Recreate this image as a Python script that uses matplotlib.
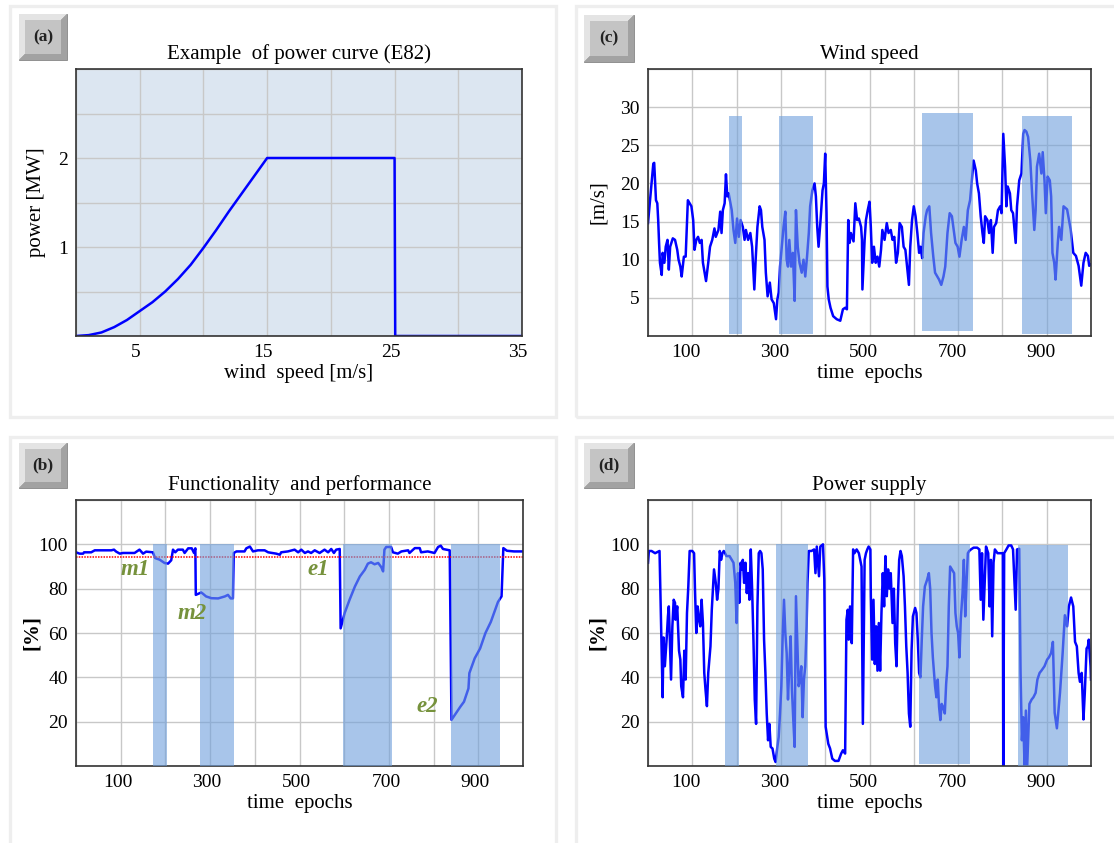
import numpy as np
import matplotlib.pyplot as plt
from matplotlib.patches import Rectangle, Polygon
from matplotlib.transforms import ScaledTranslation

plt.rcParams['font.family'] = ['Liberation Serif', 'DejaVu Serif']

# (a) power curve E82
wind = [0, 1, 2, 3, 4, 5, 6, 7, 8, 9, 10, 11, 12, 13, 14, 15, 25, 25.05, 35]
power = [0, 0.01, 0.04, 0.1, 0.18, 0.28, 0.38, 0.5, 0.64, 0.8, 0.99, 1.19, 1.40, 1.60, 1.80, 2.0, 2.0, 0.0, 0.0]

# (c) wind speed, (epoch, m/s)
wind_speed = [
    (0, 14.8), (6, 18.7), (12, 22.6), (14, 22.7), (18, 17.8), (21, 17.4), (23, 15.2), (25, 12.2), (27, 9.6),
    (31, 8.0), (33, 10.9), (37, 9.6), (40, 11.7), (44, 12.6), (47, 8.7), (50, 11.7), (56, 12.8), (61, 12.6),
    (66, 11.3), (69, 10.0), (73, 9.1), (76, 7.8), (81, 10.4), (85, 10.4), (90, 17.8), (94, 17.4), (98, 17.0),
    (102, 15.2), (105, 11.3), (109, 12.6), (113, 13.0), (117, 12.2), (121, 12.6), (124, 9.6), (131, 7.2),
    (136, 9.6), (140, 11.7), (145, 12.6), (150, 14.1), (153, 13.0), (159, 13.9), (163, 16.3), (166, 13.5),
    (169, 16.5), (173, 17.4), (176, 21.2), (179, 18.3), (182, 18.7), (186, 17.4), (189, 16.5), (193, 13.9),
    (197, 12.2), (201, 15.4), (205, 13.0), (209, 15.2), (214, 14.3), (218, 12.6), (221, 13.9), (226, 12.6),
    (231, 13.5), (235, 11.7), (240, 6.1), (243, 10.0), (247, 14.3), (252, 17.0), (255, 16.5), (258, 14.3),
    (263, 12.6), (266, 8.3), (270, 5.2), (275, 7.0), (279, 4.8), (284, 4.3), (289, 2.2), (292, 4.8),
    (295, 5.7), (298, 9.1), (302, 11.7), (306, 14.3), (310, 16.3), (313, 10.0), (316, 9.1), (319, 12.6),
    (323, 9.1), (327, 10.9), (331, 4.6), (334, 16.5), (338, 11.7), (342, 9.6), (347, 8.3), (351, 10.0),
    (355, 7.8), (359, 10.4), (363, 13.5), (366, 17.0), (371, 19.1), (376, 20.0), (379, 18.3), (382, 14.3),
    (385, 11.7), (389, 14.8), (394, 19.1), (397, 20.0), (400, 23.9), (403, 16.1), (405, 6.5), (408, 4.8),
    (412, 3.7), (418, 2.6), (426, 2.2), (434, 2.0), (440, 3.5), (445, 3.7), (449, 3.5), (452, 15.2),
    (455, 12.2), (458, 13.5), (464, 12.4), (468, 17.4), (472, 15.2), (476, 15.4), (481, 14.3), (483, 12.6),
    (484, 6.1), (489, 12.6), (492, 15.2), (496, 16.5), (500, 17.6), (503, 14.3), (506, 9.6), (510, 11.7),
    (514, 9.6), (518, 10.4), (522, 9.1), (526, 11.3), (529, 13.9), (534, 12.6), (539, 14.8), (543, 13.5),
    (548, 13.9), (552, 12.6), (556, 13.0), (560, 9.6), (564, 10.9), (568, 14.8), (573, 14.3), (577, 11.7),
    (581, 11.3), (589, 6.7), (592, 11.7), (596, 15.2), (600, 17.0), (604, 15.7), (608, 13.5), (612, 10.9),
    (615, 11.7), (619, 10.2), (622, 13.5), (627, 15.7), (630, 16.5), (635, 17.0), (639, 13.5), (644, 10.4),
    (648, 8.3), (653, 7.8), (657, 7.4), (662, 6.7), (667, 7.8), (671, 9.1), (676, 13.5), (681, 16.1),
    (686, 15.7), (690, 13.9), (694, 12.2), (699, 11.7), (703, 10.4), (708, 12.6), (713, 14.3), (717, 12.6),
    (722, 16.5), (727, 17.8), (729, 19.1), (732, 20.9), (735, 23.0), (740, 21.7), (743, 20.0), (747, 18.7),
    (751, 15.7), (755, 13.5), (758, 12.2), (761, 15.7), (766, 15.2), (770, 13.5), (774, 15.2), (778, 10.9),
    (781, 14.3), (786, 14.8), (790, 16.5), (795, 17.0), (798, 16.1), (802, 26.5), (806, 22.2), (809, 17.0),
    (812, 19.6), (817, 18.7), (820, 16.5), (824, 16.1), (830, 12.2), (833, 17.0), (838, 20.4), (843, 21.3),
    (847, 26.5), (850, 27.0), (854, 26.8), (858, 26.1), (863, 23.0), (867, 18.7), (872, 13.9), (875, 16.5),
    (878, 22.2), (883, 23.9), (888, 21.3), (891, 24.1), (895, 20.4), (898, 16.1), (902, 20.9), (907, 20.4),
    (910, 18.3), (913, 10.9), (917, 9.6), (920, 7.4), (925, 12.2), (928, 14.3), (933, 12.6), (938, 17.0),
    (946, 16.6), (954, 14.0), (960, 10.9), (966, 10.5), (972, 9.2), (978, 6.6), (983, 9.6), (988, 10.9),
    (993, 10.5), (996, 9.2), (1000, 9.4),
]

# (b) functionality and performance, (epoch, %)
performance = [
    (0, 96.4), (8, 95.8), (16, 95.8), (18, 96.4), (34, 96.4), (42, 97.3), (79, 97.3), (85, 97.6), (90, 96.7),
    (98, 95.8), (105, 96.1), (131, 96.1), (142, 97.6), (150, 95.8), (157, 96.7), (172, 96.4), (177, 93.8),
    (187, 93.1), (198, 91.6), (206, 91.3), (213, 92.8), (217, 97.6), (222, 96.4), (228, 97.6), (239, 97.6),
    (243, 96.1), (251, 98.2), (259, 98.2), (264, 96.1), (267, 98.2), (268, 77.2), (277, 78.0), (280, 78.3),
    (284, 77.7), (291, 76.5), (303, 75.7), (318, 75.6), (333, 76.5), (340, 77.2), (346, 75.6), (351, 75.6),
    (353, 96.1), (359, 96.8), (377, 96.8), (381, 98.2), (389, 99.0), (396, 96.8), (407, 97.3), (422, 97.3),
    (430, 96.4), (448, 95.8), (456, 95.3), (459, 96.4), (474, 96.8), (489, 97.6), (497, 96.4), (504, 97.6),
    (512, 96.1), (519, 96.8), (526, 96.1), (534, 97.3), (545, 96.1), (556, 97.6), (564, 96.4), (571, 97.9),
    (577, 96.1), (582, 97.6), (590, 97.9), (592, 62.1), (601, 69.0), (612, 75.0), (624, 81.0), (635, 85.5),
    (646, 88.5), (653, 91.3), (660, 91.9), (668, 91.0), (676, 91.6), (683, 89.7), (687, 87.8), (690, 97.6),
    (694, 98.8), (705, 98.8), (709, 96.4), (720, 95.8), (728, 96.8), (743, 97.3), (746, 96.1), (758, 98.3),
    (769, 98.3), (772, 96.4), (787, 96.8), (802, 96.1), (810, 98.8), (816, 99.4), (821, 97.9), (836, 97.3),
    (840, 20.8), (860, 26.8), (868, 29.0), (878, 35.0), (880, 41.9), (892, 48.6), (904, 53.0), (916, 60.0),
    (928, 65.0), (944, 74.0), (952, 76.5), (956, 98.3), (964, 97.1), (980, 96.8), (1000, 96.8),
]
threshold = 94.5
event_names = ['m1', 'm2', 'e1', 'e2']
event_x = [133, 261, 543, 786]
event_y = [88.6, 68.6, 88.6, 27]

# (d) power supply, (epoch, %)
supply = [
    (0, 91.7), (2, 97), (8, 97), (16, 96), (26, 97), (28, 78), (30, 57), (33, 31), (35, 58), (38, 45),
    (42, 57), (45, 67.5), (47, 72), (52, 39), (55, 63), (58, 75), (61, 73.6), (62, 66), (66, 72), (70, 52),
    (73, 48), (75, 36), (79, 31), (82, 52), (85, 39), (88, 69), (91, 81), (94, 97), (100, 97), (104, 96),
    (106, 80), (109, 60), (112, 72), (115, 66), (118, 63), (121, 75), (124, 64.5), (127, 42), (130, 34),
    (133, 27), (136, 42), (141, 54), (144, 70.5), (146, 78), (149, 88.7), (153, 82.6), (156, 75), (159, 80),
    (162, 97), (165, 93), (168, 96), (171, 97), (174, 96), (177, 94.7), (184, 94.7), (189, 93), (193, 91.7),
    (197, 82.6), (200, 64.5), (203, 87), (206, 73.6), (209, 91.7), (212, 88.7), (214, 93), (217, 82.6),
    (220, 91.7), (223, 78), (226, 87), (229, 75), (232, 97.7), (235, 80), (238, 57), (241, 30), (244, 19),
    (247, 72), (250, 96), (253, 97), (256, 96), (259, 88.7), (262, 57), (265, 42), (268, 23.7), (271, 11.6),
    (274, 19), (277, 8.6), (281, 7.9), (285, 3.3), (288, 1.8), (292, 8.6), (295, 13), (298, 23.7), (301, 36),
    (304, 58.5), (307, 75), (310, 60), (313, 51), (316, 30), (319, 45), (322, 58.5), (325, 34), (328, 20.7),
    (331, 8.6), (334, 76.6), (337, 57), (340, 36), (343, 39), (346, 45), (349, 22), (352, 39), (355, 45),
    (358, 63), (360, 82.6), (363, 97), (369, 97), (375, 97.7), (378, 87), (381, 99), (386, 85.6), (389, 99),
    (395, 100), (398, 84), (401, 17.7), (407, 10), (411, 7.9), (416, 3.3), (422, 2.3), (430, 2.3), (436, 5.6),
    (440, 7.1), (445, 5.6), (448, 66), (451, 70.5), (453, 57), (456, 72), (460, 55.4), (463, 97.7), (466, 96),
    (471, 97.7), (476, 96), (479, 93), (482, 90), (485, 19), (487, 57), (489, 93), (492, 96), (495, 97.7),
    (498, 99), (502, 97.7), (503, 76.6), (506, 48), (509, 75), (512, 46), (515, 63), (518, 43), (521, 64.5),
    (524, 43), (527, 69), (530, 87), (533, 72), (536, 94.7), (539, 76.6), (542, 88.7), (545, 80), (548, 87),
    (552, 64.5), (555, 80), (558, 55.4), (561, 45), (564, 75), (567, 93), (570, 97), (573, 94.7), (577, 85.6),
    (580, 72), (583, 54), (586, 42), (589, 23.7), (592, 17.7), (595, 52.4), (598, 67.5), (603, 71.3),
    (606, 69), (609, 57), (612, 42), (615, 40), (618, 57), (621, 72), (625, 81), (630, 84), (634, 87),
    (637, 80), (640, 60), (643, 49), (648, 36), (651, 31), (654, 39), (657, 26.7), (660, 20.7), (663, 28),
    (666, 26.7), (670, 23.7), (673, 37), (676, 45), (679, 72), (682, 90), (686, 88.7), (691, 87), (694, 69),
    (697, 63), (700, 60), (703, 49), (706, 66), (710, 78), (713, 93), (716, 67.5), (719, 82.6), (722, 96),
    (725, 97), (729, 97.7), (735, 98.5), (743, 98.5), (748, 97.7), (751, 75), (754, 96), (757, 66),
    (760, 82.6), (763, 99), (768, 96), (771, 72), (774, 93), (777, 58.5), (780, 91.7), (783, 97.7), (789, 96),
    (801, 96), (802, 0), (804, 96), (809, 97.7), (814, 99.5), (820, 99.5), (824, 97.7), (827, 84),
    (830, 70.5), (833, 97.7), (838, 98), (841, 42), (844, 11.6), (847, 22), (850, 0), (853, 25), (856, 0),
    (861, 28), (866, 30), (870, 31), (875, 33), (879, 39), (884, 42), (888, 43), (895, 45), (901, 48),
    (905, 49), (910, 51), (914, 56), (918, 24), (923, 17), (930, 33), (936, 51), (941, 68), (946, 63),
    (950, 72), (955, 76), (960, 72), (964, 56), (968, 54), (972, 42), (975, 38), (979, 42), (983, 21),
    (986, 33), (990, 53), (993, 54), (995, 57), (999, 45), (1000, 39),
]

# shaded windows: start, end, bottom, top
c_start = [183, 295, 619, 845]
c_end = [212, 372, 734, 956]
c_bottom = [0.2, 0.2, 0.6, 0.2]
c_top = [28.9, 28.9, 29.2, 28.9]

b_start = [172, 277, 597, 838]
b_end = [203, 353, 708, 949]
b_bottom = [0, 0, 0, 0]
b_top = [100, 100, 100, 100]

d_start = [174, 288, 611, 836]
d_end = [206, 362, 726, 948]
d_bottom = [0, 0, 0.8, 0]
d_top = [100, 100, 100, 99.7]

W, H = 1114, 843
fig = plt.figure(figsize=(W / 100, H / 100), dpi=100)


def box(x, y, w, h):
    return [x / W, 1 - (y + h) / H, w / W, h / H]


def pt(x, y):
    return (x / W, 1 - y / H)


# light panel frames
for x, y, w, h in [(10, 6, 546, 411), (576, 6, 560, 411), (10, 437, 546, 420), (576, 437, 560, 420)]:
    fig.add_artist(Rectangle(box(x, y, w, h)[:2], w / W, h / H, transform=fig.transFigure,
                             fill=False, edgecolor='#eeeeee', linewidth=2.4))

# beveled letter buttons
for lab, x, y, w, h in [('(a)', 19, 14, 48, 46), ('(c)', 584, 15, 50, 47),
                        ('(b)', 19, 443, 48, 45), ('(d)', 584, 443, 50, 45)]:
    b = box(x, y, w, h)
    fig.add_artist(Rectangle(b[:2], b[2], b[3], transform=fig.transFigure,
                             facecolor='#8f8f8f', edgecolor='#888888', linewidth=0.6))
    e = 6
    fig.add_artist(Polygon([pt(x, y), pt(x + w, y), pt(x + w - e, y + e), pt(x + e, y + e),
                            pt(x + e, y + h - e), pt(x, y + h)], closed=True,
                           transform=fig.transFigure, facecolor='#e4e4e4', edgecolor='none'))
    fig.add_artist(Polygon([pt(x + w, y), pt(x + w, y + h), pt(x, y + h), pt(x + e, y + h - e),
                            pt(x + w - e, y + h - e), pt(x + w - e, y + e)], closed=True,
                           transform=fig.transFigure, facecolor='#a2a2a2', edgecolor='none'))
    b2 = box(x + e, y + e, w - 2 * e, h - 2 * e)
    fig.add_artist(Rectangle(b2[:2], b2[2], b2[3], transform=fig.transFigure,
                             facecolor='#c4c4c4', edgecolor='none'))
    fig.text(b[0] + b[2] / 2, b[1] + b[3] / 2, lab, ha='center', va='center',
             fontsize=12.5, fontweight='bold', color='#222222')


def style(ax, xticks, xlabels, yticks, ylabels, dx, ylab_x):
    ax.set_axisbelow(True)
    ax.grid(True, color='#c8c8c8', linewidth=1)
    ax.set_xticks(xticks)
    ax.set_xticklabels(xlabels)
    ax.set_yticks(yticks)
    ax.set_yticklabels(ylabels)
    ax.tick_params(length=0, labelsize=14, pad=6)
    for s in ax.spines.values():
        s.set_color('#333333')
        s.set_linewidth(1.2)
    off = ScaledTranslation(dx / 100, 0, fig.dpi_scale_trans)
    for t in ax.get_xticklabels():
        t.set_transform(t.get_transform() + off)
    ax.yaxis.set_label_coords(ylab_x, 0.5)


epoch_ticks = np.arange(0, 1001, 100)
epoch_labels = ['', '100', '', '300', '', '500', '', '700', '', '900', '']
pct_ticks = np.arange(0, 121, 20)
pct_labels = ['', '20', '40', '60', '80', '100', '']

# (a)
ax = fig.add_axes(box(76, 69, 446, 267))
ax.set_facecolor('#dce6f1')
ax.plot(wind, power, color='blue', lw=1.8)
ax.set_xlim(0, 35)
ax.set_ylim(0, 3)
ax.set_title('Example  of power curve (E82)', fontsize=15, pad=7)
ax.set_xlabel('wind  speed [m/s]', fontsize=15, labelpad=2)
ax.set_ylabel('power [MW]', fontsize=15)
style(ax, np.arange(0, 36, 5), ['', '5', '', '15', '', '25', '', '35'],
      np.arange(0, 3.01, 0.5), ['', '', '1', '', '2', '', ''], -4, -0.068)

# (c)
ax = fig.add_axes(box(648, 69, 443, 267))
ep, val = np.array(wind_speed).T
ax.plot(ep, val, color='blue', lw=1.8, zorder=2)
ax.bar(c_start, np.array(c_top) - np.array(c_bottom), width=np.array(c_end) - np.array(c_start),
       bottom=c_bottom, align='edge', color='#6f9fdc', alpha=0.6, linewidth=0, zorder=3)
ax.set_xlim(0, 1000)
ax.set_ylim(0, 35)
ax.set_title('Wind speed', fontsize=15, pad=7)
ax.set_xlabel('time  epochs', fontsize=15, labelpad=2)
ax.set_ylabel('[m/s]', fontsize=15)
style(ax, epoch_ticks, epoch_labels, np.arange(0, 36, 5), ['', '5', '10', '15', '20', '25', '30', ''],
      -6, -0.09)

# (b)
ax = fig.add_axes(box(76, 500, 447, 266))
ep, val = np.array(performance).T
ax.plot(ep, val, color='blue', lw=1.8, zorder=2)
ax.axhline(threshold, color='#ff0000', lw=1.1, ls=(0, (1, 0.8)), zorder=2.5)
ax.bar(b_start, np.array(b_top) - np.array(b_bottom), width=np.array(b_end) - np.array(b_start),
       bottom=b_bottom, align='edge', color='#6f9fdc', alpha=0.6, linewidth=0, zorder=3)
for name, x, y in zip(event_names, event_x, event_y):
    ax.text(x, y, name, ha='center', va='center', fontsize=16.5, fontweight='bold',
            style='italic', color='#76923c', zorder=4)
ax.set_xlim(0, 1000)
ax.set_ylim(0, 120)
ax.set_title('Functionality  and performance', fontsize=15, pad=7)
ax.set_xlabel('time  epochs', fontsize=15, labelpad=2)
ax.set_ylabel('[%]', fontsize=15, fontweight='bold')
style(ax, epoch_ticks, epoch_labels, pct_ticks, pct_labels, -3, -0.075)

# (d)
ax = fig.add_axes(box(648, 500, 443, 266))
ep, val = np.array(supply).T
ax.plot(ep, val, color='blue', lw=1.8, zorder=2)
ax.bar(d_start, np.array(d_top) - np.array(d_bottom), width=np.array(d_end) - np.array(d_start),
       bottom=d_bottom, align='edge', color='#6f9fdc', alpha=0.6, linewidth=0, zorder=3)
ax.set_xlim(0, 1000)
ax.set_ylim(0, 120)
ax.set_title('Power supply', fontsize=15, pad=7)
ax.set_xlabel('time  epochs', fontsize=15, labelpad=2)
ax.set_ylabel('[%]', fontsize=15, fontweight='bold')
style(ax, epoch_ticks, epoch_labels, pct_ticks, pct_labels, -6, -0.09)

fig.savefig('out.png', dpi=100)
